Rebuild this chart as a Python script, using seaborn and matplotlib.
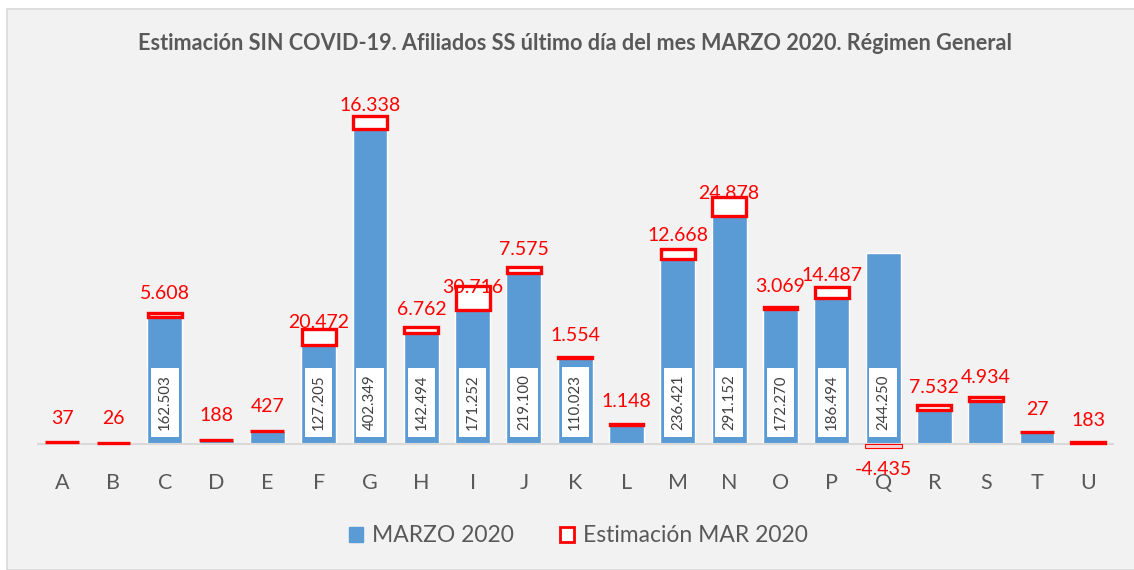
import matplotlib
matplotlib.use("Agg")
import matplotlib.pyplot as plt
from matplotlib.patches import Patch, Rectangle
import numpy as np
import pandas as pd
import seaborn as sns

# datos
sectores = list("ABCDEFGHIJKLMNOPQRSTU")
marzo_2020 = [2500, 1800, 162503, 5700, 16600, 127205, 402349, 142494, 171252, 219100,
              110023, 25000, 236421, 291152, 172270, 186494, 244250, 43000, 55700, 15000, 2000]
estimacion_mar = [37, 26, 5608, 188, 427, 20472, 16338, 6762, 30716, 7575,
                  1554, 1148, 12668, 24878, 3069, 14487, -4435, 7532, 4934, 27, 183]

# desplazamiento (px) de la etiqueta roja respecto al centro del segmento
label_dy = [24, 24, 21, 24, 25, 14, 17, 20, 11, 20, 22, 23, 19, 13, 22, 17, -24, 20, 21, 23, 22]

BLUE = "#5B9BD5"
RED = "#FF0000"
GRAY = "#595959"
BG = "#F2F2F2"


def fmt(v):
    return f"{v:,}".replace(",", ".")


def main():
    sns.set_theme(style="white")
    plt.rcParams["font.family"] = ["Lato", "DejaVu Sans"]

    df = pd.DataFrame({"sector": sectores, "marzo": marzo_2020, "est": estimacion_mar})

    fig = plt.figure(figsize=(11.34, 5.7), dpi=100, facecolor="white")
    fig.patches.append(Rectangle((7 / 1134, 0.0), 1.0, 1 - 9 / 570,
                                 transform=fig.transFigure, facecolor=BG,
                                 edgecolor="#D9D9D9", linewidth=1.2, zorder=-10))

    ax = fig.add_axes([36.5 / 1134, 1 - 452 / 570, (1114 - 36.5) / 1134, 382 / 570])
    ax.patch.set_visible(False)

    sns.barplot(data=df, x="sector", y="marzo", color=BLUE, width=0.68,
                saturation=1, errorbar=None, ax=ax)

    x = np.arange(len(df))
    est = df["est"].to_numpy()
    pos = est >= 0
    bottom = np.where(pos, df["marzo"].to_numpy(), 0)
    ax.bar(x[pos], est[pos], bottom=bottom[pos], width=0.66, facecolor="white",
           edgecolor=RED, linewidth=2.4, zorder=3)
    # el valor negativo se dibuja bajo el eje, con borde fino
    ax.bar(x[~pos], est[~pos], bottom=0, width=0.72, facecolor="#F9D3D3",
           edgecolor=RED, linewidth=0.8, zorder=3)

    ax.set_ylim(-10000, 477800)
    ax.set_xlim(-0.5, len(df) - 0.5)
    ax.axhline(0, color="#D9D9D9", linewidth=1.5, zorder=1)
    for s in ax.spines.values():
        s.set_visible(False)
    ax.set_yticks([])
    ax.set_xlabel("")
    ax.set_ylabel("")
    ax.tick_params(axis="x", length=0, pad=15, labelsize=15.5, labelcolor=GRAY)

    for i in range(len(df)):
        e = int(est[i])
        m = int(df["marzo"].iloc[i])
        seg_mid = bottom[i] + e / 2
        ax.annotate(fmt(e), (i, seg_mid), xytext=(0, label_dy[i]),
                    textcoords="offset pixels", ha="center", va="center",
                    fontsize=14, color=RED, zorder=5)
        if m >= 100000:
            ax.annotate(fmt(m), (i, 0), xytext=(0, 14),
                        textcoords="offset pixels", ha="center", va="bottom",
                        rotation=90, fontsize=10.8, color="#404040", zorder=4,
                        bbox=dict(boxstyle="square,pad=0.45", facecolor="white",
                                  edgecolor="none"))

    fig.text(0.507, 1 - 44 / 570,
             "Estimación SIN COVID-19. Afiliados SS último día del mes MARZO 2020. Régimen General",
             ha="center", va="center", fontsize=15.6, fontweight="bold", color=GRAY)

    handles = [Patch(facecolor=BLUE, edgecolor=BLUE),
               Patch(facecolor="white", edgecolor=RED, linewidth=2)]
    fig.legend(handles, ["MARZO 2020", "Estimación MAR 2020"], loc="center",
               bbox_to_anchor=(0.51, 1 - 536 / 570), ncol=2, frameon=False,
               fontsize=16.5, labelcolor=GRAY, handlelength=0.6, handleheight=0.6,
               handletextpad=0.4, columnspacing=2.0)

    fig.savefig("out.png", dpi=100, facecolor="white")
    plt.close(fig)


if __name__ == "__main__":
    main()
